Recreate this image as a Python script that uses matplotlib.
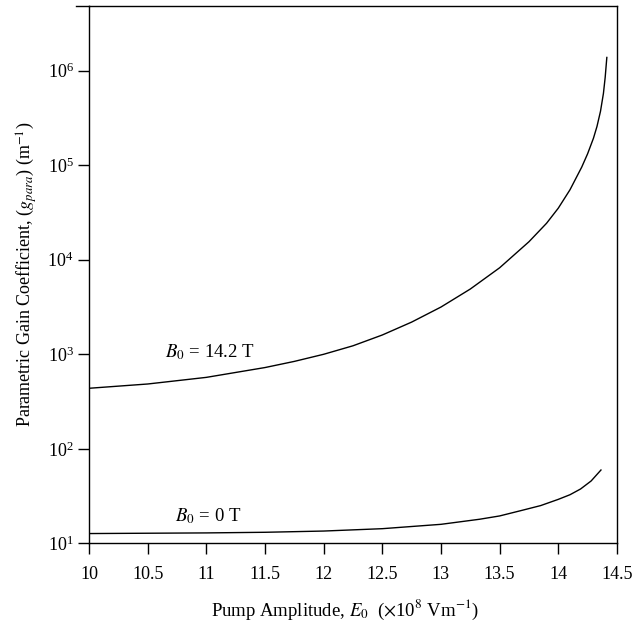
import matplotlib
matplotlib.use("Agg")
import matplotlib.pyplot as plt
from matplotlib.ticker import LogLocator, NullLocator, LogFormatterMathtext

plt.rcParams['font.family'] = ['Liberation Serif', 'DejaVu Serif']
plt.rcParams['mathtext.fontset'] = 'stix'

# curve B0 = 14.2 T
e_hi = [10.0, 10.5, 11.0, 11.5, 11.75, 12.0, 12.25, 12.5, 12.75, 13.0, 13.25,
        13.5, 13.75, 13.9, 14.0, 14.1, 14.2, 14.25, 14.3, 14.33, 14.36,
        14.385, 14.4, 14.414]
g_hi = [437, 485, 570, 724, 841, 1000, 1230, 1600, 2190, 3160, 4900,
        8220, 15500, 24300, 35100, 55000, 95500, 132000, 193000, 257000, 372000,
        575000, 851000, 1380000]

# curve B0 = 0 T
e_lo = [10.0, 10.5, 11.0, 11.5, 12.0, 12.5, 13.0, 13.33, 13.5,
        13.7, 13.85, 14.0, 14.1, 14.19, 14.28, 14.364]
g_lo = [12.7, 12.8, 12.9, 13.1, 13.5, 14.3, 15.9, 18.0, 19.5,
        22.5, 25.1, 29.2, 32.7, 37.6, 45.7, 59.7]

xticks = [10, 10.5, 11, 11.5, 12, 12.5, 13, 13.5, 14, 14.5]
xticklabels = ['10', '10.5', '11', '11.5', '12', '12.5', '13', '13.5', '14', '14.5']

fig = plt.figure(figsize=(6.36, 6.26), dpi=100)
ax = fig.add_axes([0.140, 0.132, 0.830, 0.858])

ax.plot(e_hi, g_hi, color='black', lw=1.0)
ax.plot(e_lo, g_lo, color='black', lw=1.0)

ax.set_yscale('log')
ax.set_xlim(10, 14.5)
ax.set_ylim(10, 4.8e6)
ax.yaxis.set_major_locator(LogLocator(base=10, numticks=10))
ax.yaxis.set_major_formatter(LogFormatterMathtext())
ax.yaxis.set_minor_locator(NullLocator())
ax.set_xticks(xticks)
ax.set_xticklabels(xticklabels)

ax.tick_params(direction='out', length=8, width=1, labelsize=13)
ax.tick_params(axis='x', pad=8)
ax.tick_params(axis='y', pad=3)
for s in ax.spines.values():
    s.set_linewidth(1.0)

# little end mark at top-left like the original frame
ax.plot([-0.025, 0], [1, 1], transform=ax.transAxes, color='black', lw=1.0, clip_on=False)

ax.text(10.65, 1050, r'$B_0$ = 14.2 T', fontsize=13.5, va='center', ha='left')
ax.text(10.73, 19.5, r'$B_0$ = 0 T', fontsize=13.5, va='center', ha='left')

ax.set_xlabel(r'Pump Amplitude, $E_0$  ($\times$10$^8$ Vm$^{-1}$)', fontsize=13.5)
ax.xaxis.set_label_coords(0.485, -0.102)
ax.set_ylabel(r'Parametric Gain Coefficient, ($g_{para}$) (m$^{-1}$)', fontsize=13, labelpad=6)

fig.savefig('out.png', dpi=100)
